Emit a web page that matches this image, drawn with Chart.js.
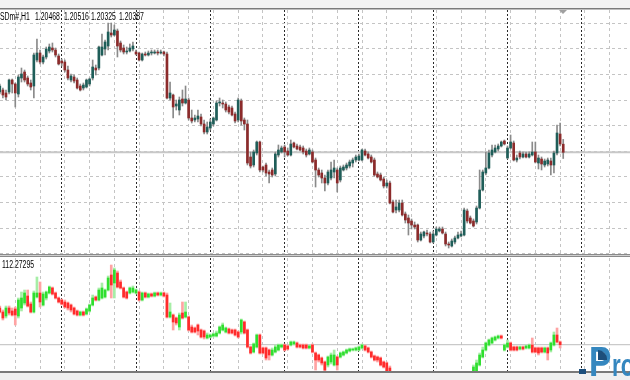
<!DOCTYPE html>
<html><head><meta charset="utf-8">
<script src="https://cdn.jsdelivr.net/npm/chart.js@4.4.1/dist/chart.umd.min.js"></script>
<style>
html,body{margin:0;padding:0;background:#fff;width:630px;height:380px;overflow:hidden;position:relative;font-family:"Liberation Sans",Arial,sans-serif;}
canvas{position:absolute;left:0;}
#topc{top:10px;}
#botc{top:258px;}
.ln{position:absolute;left:0;width:630px;}
.t{position:absolute;font-size:10px;line-height:12px;color:#000;white-space:pre;transform:scaleX(0.69);transform-origin:0 0;}
.lg{position:absolute;font-family:"Liberation Sans",Arial,sans-serif;font-weight:bold;color:#3587bf;white-space:pre;transform-origin:0 0;}
#dot{position:absolute;left:579px;top:369px;width:7px;height:5px;background:#1d4f7c;}
#navy{position:absolute;left:598px;top:350px;width:9px;height:10px;background:#1d4f7c;border-top-right-radius:9px;}
#shift{position:absolute;left:559px;top:10px;width:0;height:0;border-left:4px solid transparent;border-right:4px solid transparent;border-top:4px solid #a0a0a0;}
</style></head><body>
<div class="ln" style="top:0;height:8px;background:#f2f2f2"></div>
<div class="ln" style="top:8px;height:1px;background:#7a7a7a"></div>
<div class="ln" style="top:9px;height:1px;background:#bdbdbd"></div>
<canvas id="topc" width="630" height="244"></canvas>
<div class="ln" style="top:254px;height:1px;background:#8a8a8a"></div>
<div class="ln" style="top:255px;height:1px;background:#d0d0d0"></div>
<div class="ln" style="top:256px;height:1px;background:#8a8a8a"></div>
<canvas id="botc" width="630" height="113"></canvas>
<div class="ln" style="top:371px;height:2px;background:#7a7a7a"></div>
<div class="ln" style="top:373px;height:7px;background:#f0f0f0"></div>
<div id="shift"></div>
<div id="titleBox"></div>
<div class="t" id="sub" style="left:2px;top:259px"></div>
<div id="dot"></div>
<div class="lg" style="left:589px;top:339px;font-size:42px;line-height:46px;transform:scaleX(0.8)">P</div>
<div id="navy"></div>
<div class="lg" style="left:612px;top:347px;font-size:32px;line-height:36px;transform:scaleX(0.7)">ro</div>
<script>
// ---- Main window: EURUSDm#, H1 candles (bar index 0..182) ----
const open = [1.2099,1.2101,1.2098,1.2099,1.2111,1.2107,1.2097,1.2113,1.2119,1.2113,1.2108,1.2105,1.2131,1.2138,1.2129,1.2134,1.2140,1.2143,1.2141,1.2135,
1.2130,1.2129,1.2121,1.2111,1.2114,1.2111,1.2105,1.2103,1.2104,1.2107,1.2113,1.2123,1.2123,1.2136,1.2142,1.2145,1.2158,1.2156,1.2160,1.2148,
1.2143,1.2139,1.2140,1.2142,1.2139,1.2138,1.2131,1.2137,1.2136,1.2138,1.2138,1.2139,1.2138,1.2139,1.2137,1.2093,1.2096,1.2085,1.2081,1.2092,
1.2088,1.2091,1.2073,1.2071,1.2072,1.2074,1.2067,1.2059,1.2063,1.2067,1.2071,1.2088,1.2088,1.2087,1.2084,1.2083,1.2077,1.2071,1.2090,1.2071,
1.2067,1.2034,1.2026,1.2038,1.2049,1.2024,1.2026,1.2019,1.2021,1.2017,1.2036,1.2039,1.2044,1.2040,1.2036,1.2048,1.2045,1.2044,1.2043,1.2040,
1.2037,1.2039,1.2031,1.2021,1.2018,1.2013,1.2008,1.2013,1.2019,1.2021,1.2011,1.2021,1.2023,1.2025,1.2028,1.2031,1.2031,1.2031,1.2040,1.2037,
1.2034,1.2031,1.2017,1.2016,1.2012,1.2005,1.2008,1.1989,1.1981,1.1981,1.1988,1.1977,1.1973,1.1970,1.1966,1.1966,1.1951,1.1955,1.1958,1.1957,
1.1949,1.1956,1.1960,1.1962,1.1957,1.1947,1.1945,1.1949,1.1953,1.1955,1.1956,1.1980,1.1973,1.1970,1.1969,1.1983,1.2001,1.2018,1.2023,1.2036,
1.2039,1.2042,1.2045,1.2050,1.2033,1.2043,1.2048,1.2031,1.2038,1.2034,1.2037,1.2034,1.2036,1.2039,1.2028,1.2032,1.2026,1.2027,1.2030,1.2026,
1.2038,1.2057,1.20468];
const high = [1.2107,1.2103,1.2101,1.2112,1.2112,1.2108,1.2116,1.2123,1.2121,1.2115,1.2111,1.2138,1.2152,1.2141,1.2136,1.2144,1.2147,1.2148,1.2143,1.2137,
1.2132,1.2131,1.2125,1.2117,1.2116,1.2113,1.2107,1.2108,1.2112,1.2113,1.2131,1.2126,1.2145,1.2157,1.2151,1.2168,1.2168,1.2166,1.2162,1.2150,
1.2146,1.2144,1.2147,1.2149,1.2141,1.2139,1.2138,1.2139,1.2140,1.2141,1.2141,1.2141,1.2141,1.2140,1.2139,1.2109,1.2097,1.2091,1.2094,1.2101,
1.2105,1.2093,1.2081,1.2076,1.2081,1.2077,1.2071,1.2069,1.2072,1.2074,1.2090,1.2093,1.2091,1.2089,1.2086,1.2085,1.2079,1.2093,1.2092,1.2073,
1.2071,1.2039,1.2041,1.2050,1.2050,1.2025,1.2028,1.2021,1.2023,1.2039,1.2046,1.2045,1.2046,1.2043,1.2051,1.2049,1.2047,1.2046,1.2045,1.2042,
1.2043,1.2041,1.2033,1.2023,1.2021,1.2016,1.2021,1.2029,1.2031,1.2023,1.2025,1.2026,1.2028,1.2031,1.2033,1.2036,1.2037,1.2042,1.2042,1.2039,
1.2036,1.2033,1.2019,1.2018,1.2014,1.2011,1.2010,1.1991,1.1991,1.1991,1.1991,1.1979,1.1976,1.1972,1.1969,1.1967,1.1959,1.1960,1.1961,1.1959,
1.1960,1.1964,1.1964,1.1964,1.1959,1.1949,1.1952,1.1955,1.1959,1.1960,1.1983,1.1982,1.1975,1.1972,1.1985,1.2021,1.2021,1.2039,1.2041,1.2046,
1.2046,1.2047,1.2050,1.2051,1.2045,1.2056,1.2050,1.2036,1.2040,1.2039,1.2039,1.2039,1.2049,1.2049,1.2036,1.2034,1.2032,1.2033,1.2033,1.2040,
1.2066,1.2068,1.20516];
const low = [1.2097,1.2093,1.2091,1.2097,1.2098,1.2084,1.2094,1.2109,1.2109,1.2105,1.2101,1.2093,1.2129,1.2127,1.2127,1.2132,1.2138,1.2139,1.2134,1.2126,
1.2125,1.2119,1.2111,1.2109,1.2108,1.2102,1.2100,1.2101,1.2103,1.2105,1.2111,1.2116,1.2121,1.2135,1.2136,1.2141,1.2154,1.2155,1.2134,1.2139,
1.2137,1.2137,1.2139,1.2140,1.2136,1.2130,1.2130,1.2135,1.2135,1.2136,1.2137,1.2136,1.2137,1.2135,1.2092,1.2091,1.2073,1.2081,1.2076,1.2085,
1.2087,1.2071,1.2068,1.2069,1.2069,1.2065,1.2057,1.2057,1.2061,1.2065,1.2070,1.2085,1.2083,1.2079,1.2077,1.2075,1.2068,1.2069,1.2066,1.2061,
1.2026,1.2023,1.2024,1.2036,1.2019,1.2019,1.2015,1.2008,1.2014,1.2015,1.2034,1.2038,1.2034,1.2035,1.2035,1.2043,1.2041,1.2040,1.2037,1.2034,
1.2036,1.2028,1.2004,1.2014,1.2008,1.2000,1.2006,1.2011,1.2013,1.1999,1.2009,1.2020,1.2021,1.2023,1.2024,1.2029,1.2030,1.2030,1.2035,1.2032,
1.2028,1.2015,1.2013,1.2010,1.2003,1.2003,1.1987,1.1978,1.1978,1.1979,1.1975,1.1968,1.1956,1.1962,1.1962,1.1949,1.1950,1.1953,1.1955,1.1948,
1.1948,1.1955,1.1959,1.1957,1.1945,1.1943,1.1944,1.1947,1.1952,1.1954,1.1955,1.1968,1.1967,1.1964,1.1967,1.1982,1.2000,1.2016,1.2022,1.2034,
1.2038,1.2040,1.2044,1.2046,1.2032,1.2042,1.2030,1.2029,1.2032,1.2033,1.2033,1.2033,1.2035,1.2028,1.2022,1.2021,1.2024,1.2025,1.2016,1.2018,
1.2036,1.2045,1.20325];
const close = [1.2105,1.2096,1.2094,1.2111,1.2107,1.2098,1.2114,1.2117,1.2111,1.2107,1.2104,1.2136,1.2138,1.2129,1.2134,1.2142,1.2144,1.2141,1.2136,1.2127,
1.2128,1.2121,1.2113,1.2115,1.2110,1.2103,1.2101,1.2106,1.2111,1.2112,1.2124,1.2121,1.2144,1.2144,1.2149,1.2159,1.2156,1.2161,1.2145,1.2141,
1.2139,1.2140,1.2143,1.2145,1.2137,1.2131,1.2137,1.2136,1.2138,1.2139,1.2139,1.2138,1.2139,1.2137,1.2093,1.2098,1.2084,1.2087,1.2091,1.2088,
1.2092,1.2073,1.2070,1.2073,1.2075,1.2067,1.2059,1.2064,1.2069,1.2073,1.2088,1.2089,1.2087,1.2081,1.2079,1.2076,1.2070,1.2091,1.2070,1.2067,
1.2028,1.2025,1.2039,1.2049,1.2021,1.2021,1.2018,1.2017,1.2016,1.2037,1.2041,1.2043,1.2039,1.2036,1.2047,1.2044,1.2042,1.2041,1.2039,1.2036,
1.2041,1.2029,1.2021,1.2016,1.2013,1.2008,1.2019,1.2021,1.2023,1.2008,1.2023,1.2024,1.2026,1.2029,1.2031,1.2034,1.2035,1.2041,1.2036,1.2033,
1.2029,1.2016,1.2014,1.2011,1.2005,1.2008,1.1988,1.1979,1.1984,1.1988,1.1976,1.1971,1.1968,1.1966,1.1964,1.1951,1.1957,1.1959,1.1957,1.1949,
1.1957,1.1962,1.1962,1.1958,1.1947,1.1946,1.1950,1.1953,1.1956,1.1957,1.1981,1.1970,1.1968,1.1965,1.1983,1.2001,1.2019,1.2023,1.2038,1.2041,
1.2043,1.2045,1.2049,1.2047,1.2043,1.2049,1.2031,1.2033,1.2034,1.2037,1.2034,1.2037,1.2039,1.2029,1.2033,1.2027,1.2030,1.2031,1.2026,1.2038,
1.2058,1.2047,1.20387];

// ---- Sub-window: second instrument (112.xx), same bar index; null = below the visible window ----
const N = null;
const bOpen = [112.64,112.60,112.56,112.64,112.61,112.63,112.56,112.64,112.69,112.76,112.68,112.60,112.75,112.79,112.67,112.74,112.79,112.84,112.79,112.74,
112.72,112.70,112.69,112.67,112.64,112.61,112.57,112.60,112.58,112.61,112.67,112.75,112.72,112.74,112.75,112.82,112.97,112.89,112.99,112.90,
112.84,112.80,112.79,112.80,112.79,112.80,112.72,112.79,112.75,112.78,112.76,112.79,112.77,112.79,112.77,112.55,112.57,112.54,112.45,112.59,
112.55,112.55,112.45,112.44,112.47,112.42,112.41,112.34,112.35,112.36,112.36,112.39,112.42,112.40,112.43,112.42,112.42,112.40,112.40,112.50,
112.42,112.25,112.20,112.25,112.37,112.24,112.24,112.22,112.17,112.20,112.22,112.25,112.27,112.26,112.27,112.28,112.29,112.27,112.27,112.27,
112.24,112.27,112.19,112.17,112.14,112.10,112.07,112.10,112.07,112.15,112.15,112.17,112.19,112.21,112.22,112.22,112.22,112.24,112.26,112.24,
112.20,112.16,112.15,112.14,112.10,112.09,112.04,N,N,N,N,N,N,N,N,N,N,N,N,N,N,N,N,N,N,N,N,N,N,N,N,N,N,
111.94,111.97,112.07,112.15,112.22,112.27,112.29,112.32,112.34,112.36,112.22,112.25,112.29,112.25,112.25,112.23,112.25,112.24,112.24,112.27,
112.24,112.24,112.24,112.20,112.24,112.22,112.27,112.37,112.30];
const bHigh = [112.66,112.62,112.66,112.66,112.64,112.65,112.74,112.80,112.82,112.82,112.70,112.81,112.95,112.90,112.80,112.81,112.86,112.85,112.80,112.75,
112.73,112.72,112.70,112.68,112.65,112.62,112.61,112.61,112.64,112.68,112.77,112.76,112.84,112.89,112.83,112.96,113.07,113.04,113.01,112.92,
112.85,112.81,112.85,112.86,112.83,112.81,112.80,112.80,112.79,112.79,112.80,112.80,112.80,112.80,112.79,112.69,112.58,112.55,112.59,112.70,
112.70,112.56,112.47,112.45,112.48,112.43,112.42,112.39,112.38,112.39,112.41,112.46,112.49,112.45,112.44,112.43,112.43,112.41,112.53,112.51,
112.43,112.26,112.29,112.38,112.38,112.25,112.25,112.23,112.24,112.27,112.28,112.28,112.28,112.27,112.31,112.31,112.30,112.28,112.28,112.28,
112.27,112.28,112.20,112.18,112.15,112.11,112.16,112.19,112.22,112.16,112.20,112.21,112.23,112.24,112.24,112.25,112.26,112.28,112.27,112.25,
112.21,112.17,112.16,112.15,112.11,112.10,112.06,N,N,N,N,N,N,N,N,N,N,N,N,N,N,N,N,N,N,N,N,N,N,N,N,N,N,
112.07,112.12,112.19,112.25,112.30,112.33,112.35,112.36,112.37,112.37,112.28,112.32,112.30,112.26,112.26,112.26,112.26,112.27,112.28,112.34,
112.25,112.25,112.25,112.25,112.25,112.30,112.40,112.44,112.31];
const bLow = [112.59,112.52,112.54,112.57,112.56,112.47,112.54,112.61,112.67,112.65,112.59,112.59,112.74,112.65,112.66,112.72,112.78,112.77,112.73,112.69,
112.67,112.64,112.62,112.60,112.57,112.56,112.56,112.56,112.57,112.60,112.66,112.71,112.71,112.73,112.74,112.81,112.74,112.74,112.84,112.83,
112.74,112.73,112.78,112.79,112.78,112.71,112.71,112.74,112.74,112.75,112.75,112.76,112.76,112.75,112.54,112.54,112.42,112.47,112.42,112.53,
112.54,112.41,112.39,112.39,112.37,112.34,112.33,112.33,112.34,112.35,112.35,112.38,112.41,112.39,112.38,112.38,112.36,112.34,112.38,112.38,
112.24,112.18,112.19,112.24,112.18,112.18,112.12,112.12,112.16,112.19,112.21,112.24,112.21,112.22,112.26,112.27,112.24,112.24,112.23,112.23,
112.23,112.19,112.02,112.10,112.07,112.00,112.05,112.08,112.06,112.02,112.14,112.16,112.18,112.20,112.21,112.21,112.21,112.23,112.21,112.19,
112.14,112.11,112.10,112.06,112.04,111.99,111.94,N,N,N,N,N,N,N,N,N,N,N,N,N,N,N,N,N,N,N,N,N,N,N,N,N,N,
111.92,111.96,112.06,112.14,112.21,112.26,112.28,112.31,112.33,112.33,112.21,112.24,112.21,112.21,112.21,112.22,112.22,112.23,112.23,112.19,
112.19,112.17,112.19,112.19,112.12,112.20,112.26,112.29,112.24];
const bClose = [112.60,112.54,112.64,112.59,112.57,112.57,112.72,112.74,112.79,112.66,112.60,112.79,112.79,112.70,112.78,112.80,112.85,112.78,112.74,112.70,
112.68,112.65,112.64,112.62,112.58,112.57,112.60,112.57,112.63,112.67,112.74,112.72,112.82,112.84,112.82,112.94,112.87,113.02,112.85,112.84,
112.75,112.74,112.84,112.84,112.82,112.72,112.79,112.75,112.78,112.76,112.79,112.77,112.79,112.76,112.55,112.60,112.50,112.49,112.57,112.54,
112.60,112.42,112.40,112.40,112.41,112.35,112.35,112.37,112.37,112.38,112.39,112.45,112.47,112.44,112.39,112.39,112.37,112.35,112.52,112.39,
112.25,112.19,112.28,112.37,112.19,112.19,112.14,112.17,112.22,112.25,112.27,112.27,112.22,112.23,112.30,112.30,112.25,112.25,112.24,112.24,
112.26,112.20,112.12,112.12,112.09,112.02,112.15,112.17,112.17,112.07,112.19,112.20,112.22,112.23,112.23,112.24,112.25,112.27,112.22,112.20,
112.15,112.12,112.12,112.07,112.05,112.00,111.96,N,N,N,N,N,N,N,N,N,N,N,N,N,N,N,N,N,N,N,N,N,N,N,N,N,N,
112.05,112.09,112.17,112.22,112.29,112.32,112.34,112.35,112.36,112.34,112.27,112.29,112.22,112.22,112.22,112.25,112.23,112.26,112.27,112.20,
112.20,112.19,112.20,112.24,112.19,112.29,112.37,112.30,112.27295];

// header texts
const titleParts = ["SDm#,H1", "1.20468", "1.20516", "1.20325", "1.20387"];
const titleLeft = [0, 35, 63.5, 91, 119];
const subLabel = "112.27295";

// visible window of the bar index axis
const xMin = 0.0646, xMax = 203.57;
const lightGridBars = Array.from({length: 25}, (_, k) => 5 + 8 * k);   // dashed grid every 8 bars
const daySepBars = Array.from({length: 8}, (_, k) => 20 + 24 * k);     // day separators every 24 bars
const topGrid = Array.from({length: 10}, (_, k) => +(1.21677 - 0.00256 * k).toFixed(5));

const bidLine = {
  id: 'bidLine',
  beforeDatasetsDraw(chart, args, o) {
    if (!o || o.value == null) return;
    const y = chart.scales.y.getPixelForValue(o.value);
    const c = chart.ctx, a = chart.chartArea;
    c.save(); c.strokeStyle = o.color; c.lineWidth = o.width;
    c.beginPath(); c.moveTo(a.left, y); c.lineTo(a.right, y); c.stroke(); c.restore();
  }
};

function xAxes() {
  const common = {type: 'linear', min: xMin, max: xMax, bounds: 'data', offset: false,
    ticks: {display: false}, border: {display: false}};
  return {
    x: Object.assign({}, common, {
      afterBuildTicks: s => { s.ticks = lightGridBars.map(v => ({value: v})); },
      grid: {offset: false, drawTicks: false, color: '#c4c4c4', lineWidth: 1},
      border: {display: false, dash: [3, 3]}
    }),
    x2: Object.assign({}, common, {
      afterBuildTicks: s => { s.ticks = daySepBars.map(v => ({value: v})); },
      grid: {offset: false, drawTicks: false, color: '#2a2a2a', lineWidth: 1},
      border: {display: false, dash: [2, 2]}
    })
  };
}

function candleChart(id, O, H, L, C, cfg) {
  const idx = O.map((v, i) => i).filter(i => O[i] != null);
  const up = i => C[i] >= O[i];
  const scales = xAxes();
  scales.y = {type: 'linear', min: cfg.yMin, max: cfg.yMax, beginAtZero: false,
    ticks: {display: false}, border: {display: false, dash: [3, 3]},
    grid: {display: cfg.yGrid != null, drawTicks: false, color: '#c4c4c4', lineWidth: 1},
    afterBuildTicks: s => { if (cfg.yGrid) s.ticks = cfg.yGrid.map(v => ({value: v})); }
  };
  return new Chart(document.getElementById(id), {
    type: 'bar',
    data: {datasets: [
      {data: idx.map(i => ({x: i, y: [L[i], H[i]]})), barThickness: cfg.wickW, grouped: false,
       backgroundColor: ctx => up(ctx.raw.x) ? cfg.upWick : cfg.dnWick, order: 2},
      {data: idx.map(i => ({x: i, y: [O[i], C[i]]})), barThickness: 2, grouped: false, minBarLength: 1,
       backgroundColor: ctx => up(ctx.raw.x) ? cfg.upBody : cfg.dnBody, order: 1}
    ]},
    options: {
      responsive: false, maintainAspectRatio: false, animation: false,
      layout: {padding: 0},
      plugins: {legend: {display: false}, tooltip: {enabled: false},
        bidLine: {value: C[C.length - 1], color: cfg.bidColor, width: cfg.bidW}},
      scales
    },
    plugins: [bidLine]
  });
}

candleChart('topc', open, high, low, close, {
  yMin: 1.1937, yMax: 1.2181, yGrid: topGrid, wickW: 1,
  upWick: '#8a8a8a', dnWick: '#8a8a8a', upBody: '#1f5e59', dnBody: '#8c2b2b',
  bidColor: '#c8c8c8', bidW: 2
});
candleChart('botc', bOpen, bHigh, bLow, bClose, {
  yMin: 112.01, yMax: 113.14, yGrid: null, wickW: 2,
  upWick: '#a6eea6', dnWick: '#ffa3a3', upBody: '#2fdf2f', dnBody: '#ff2b2b',
  bidColor: '#bdbdbd', bidW: 1
});

const tb = document.getElementById('titleBox');
titleParts.forEach((s, k) => {
  const d = document.createElement('div');
  d.className = 't'; d.style.left = titleLeft[k] + 'px'; d.style.top = '11px';
  d.textContent = s; tb.appendChild(d);
});
document.getElementById('sub').textContent = subLabel;
</script>
</body></html>
